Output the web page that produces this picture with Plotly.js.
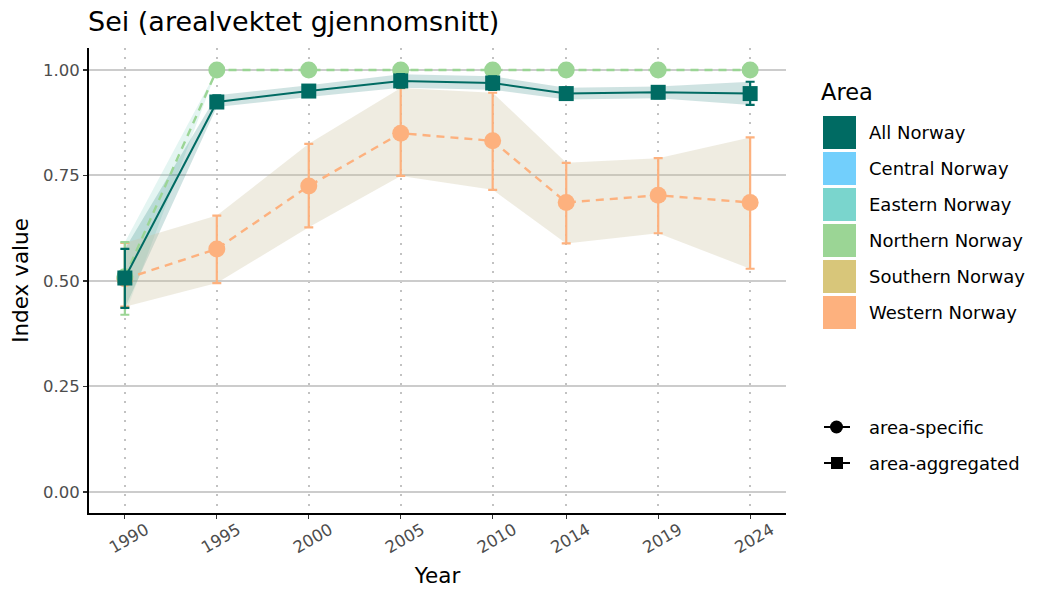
<!DOCTYPE html>
<html>
<head>
<meta charset="utf-8">
<script src="https://cdn.plot.ly/plotly-3.0.1.min.js"></script>
<style>html,body{margin:0;padding:0;background:#fff;}#chart{width:1050px;height:600px;}</style>
</head>
<body>
<div id="chart"></div>
<script>
// ---- data ----
const years = [1990, 1995, 2000, 2005, 2010, 2014, 2019, 2024];

const allNorway      = [0.507, 0.924, 0.950, 0.974, 0.969, 0.944, 0.947, 0.944];
const allNorwayLower = [0.436, 0.912, 0.936, 0.958, 0.953, 0.930, 0.933, 0.917];
const allNorwayUpper = [0.576, 0.940, 0.964, 0.990, 0.985, 0.958, 0.961, 0.972];

const northern      = [0.510, 1.000, 1.000, 1.000, 1.000, 1.000, 1.000, 1.000];
const northernLower = [0.420, 1.000, 1.000, 1.000, 1.000, 1.000, 1.000, 1.000];
const northernUpper = [0.592, 1.000, 1.000, 1.000, 1.000, 1.000, 1.000, 1.000];

const western      = [0.505, 0.576, 0.725, 0.850, 0.832, 0.686, 0.703, 0.686];
const westernLower = [0.439, 0.495, 0.627, 0.749, 0.716, 0.589, 0.613, 0.529];
const westernUpper = [0.590, 0.655, 0.825, 0.957, 0.946, 0.780, 0.791, 0.840];

const yTicks = [0, 0.25, 0.5, 0.75, 1.0];
const yTickLabels = ["0.00", "0.25", "0.50", "0.75", "1.00"];

const areaNames  = ["All Norway", "Central Norway", "Eastern Norway", "Northern Norway", "Southern Norway", "Western Norway"];
const areaColors = ["#006B63", "#72CFFC", "#7AD5CD", "#9BD595", "#D8C67A", "#FDB17E"];
const shapeNames = ["area-specific", "area-aggregated"];

// ---- helpers ----
function ribbon(lower, upper, fill) {
  return {
    x: years.concat(years.slice().reverse()),
    y: lower.concat(upper.slice().reverse()),
    type: 'scatter', mode: 'lines', fill: 'toself',
    fillcolor: fill, line: {width: 0, color: 'rgba(0,0,0,0)'},
    hoverinfo: 'skip', showlegend: false
  };
}
function series(vals, lower, upper, color, dash, width, symbol, size) {
  return {
    x: years, y: vals, type: 'scatter', mode: 'lines+markers',
    line: {color: color, width: width, dash: dash},
    marker: {color: color, size: size, symbol: symbol},
    error_y: {
      type: 'data', symmetric: false,
      array: upper.map((u, i) => u - vals[i]),
      arrayminus: vals.map((v, i) => v - lower[i]),
      color: color, thickness: 2.2, width: 4.5
    },
    showlegend: false
  };
}

const traces = [
  ribbon(northernLower, northernUpper, 'rgba(122,205,190,0.20)'),
  ribbon(allNorwayLower, allNorwayUpper, 'rgba(0,107,99,0.19)'),
  ribbon(westernLower, westernUpper, 'rgba(202,192,155,0.30)'),
  series(western, westernLower, westernUpper, areaColors[5], '8px,6px', 2.4, 'circle', 17),
  series(northern, northernLower, northernUpper, areaColors[3], '8px,6px', 2.4, 'circle', 17),
  series(allNorway, allNorwayLower, allNorwayUpper, areaColors[0], 'solid', 2, 'square', 15)
];

// ---- legend (drawn in paper/pixel space) ----
const W = 1050, H = 600;
const mL = 89, mR = 264, mT = 48, mB = 87;
const pw = W - mL - mR, ph = H - mT - mB;
const px = v => (v - mL) / pw;
const py = v => (H - mB - v) / ph;

const shapes = [];
const annotations = [];

annotations.push({xref:'paper', yref:'paper', x: px(819), y: py(92), text: 'Area',
  showarrow:false, xanchor:'left', yanchor:'middle', font:{size:22.5, color:'#000'}});

areaNames.forEach((name, i) => {
  const top = 116 + i * 36;
  shapes.push({type:'rect', xref:'paper', yref:'paper',
    x0: px(823), x1: px(856), y0: py(top + 33), y1: py(top),
    fillcolor: areaColors[i], line:{width:0}});
  annotations.push({xref:'paper', yref:'paper', x: px(867), y: py(top + 16.5), text: name,
    showarrow:false, xanchor:'left', yanchor:'middle', font:{size:18, color:'#000'}});
});

shapeNames.forEach((name, i) => {
  const cy = 427 + i * 36;
  shapes.push({type:'line', xref:'paper', yref:'paper',
    x0: px(824), x1: px(850), y0: py(cy), y1: py(cy), line:{color:'#000', width:2}});
  if (i === 0) {
    shapes.push({type:'circle', xref:'paper', yref:'paper',
      x0: px(830), x1: px(843), y0: py(cy + 6.5), y1: py(cy - 6.5), fillcolor:'#000', line:{width:0}});
  } else {
    shapes.push({type:'rect', xref:'paper', yref:'paper',
      x0: px(831), x1: px(843), y0: py(cy + 6), y1: py(cy - 6), fillcolor:'#000', line:{width:0}});
  }
  annotations.push({xref:'paper', yref:'paper', x: px(867), y: py(cy), text: name,
    showarrow:false, xanchor:'left', yanchor:'middle', font:{size:18, color:'#000'}});
});

const layout = {
  width: W, height: H,
  margin: {l: mL, r: mR, t: mT, b: mB, pad: 0},
  paper_bgcolor: '#fff', plot_bgcolor: '#fff',
  font: {family: 'DejaVu Sans, sans-serif', color: '#000'},
  title: {text: 'Sei (arealvektet gjennomsnitt)', x: 88/W, xanchor: 'left', y: 1 - 22/H, yanchor: 'middle',
          font: {size: 27, color: '#000'}},
  showlegend: false,
  xaxis: {
    range: [1988.05, 2025.95], tickvals: years, ticktext: years.map(String),
    tickangle: -30, tickfont: {size: 16.5, color: '#4d4d4d'}, ticklabelshift: 21, ticklabelstandoff: -5,
    showgrid: true, gridcolor: '#c2c2c2', gridwidth: 2, griddash: '2px,7.3px',
    zeroline: false, showline: true, linecolor: '#000', linewidth: 2,
    ticks: 'outside', ticklen: 4, tickcolor: '#333', tickwidth: 1.2,
    title: {text: 'Year', font: {size: 21.5, color: '#000'}, standoff: 12}
  },
  yaxis: {
    range: [-0.0498, 1.052], tickvals: yTicks, ticktext: yTickLabels,
    tickfont: {size: 16.5, color: '#4d4d4d'},
    showgrid: true, gridcolor: '#cccccc', gridwidth: 2,
    zeroline: false, showline: true, linecolor: '#000', linewidth: 2,
    ticks: 'outside', ticklen: 4, tickcolor: '#333', tickwidth: 1.2,
    title: {text: 'Index value', font: {size: 21.5, color: '#000'}, standoff: 8}
  },
  shapes: shapes,
  annotations: annotations
};

Plotly.newPlot('chart', traces, layout, {staticPlot: true, displayModeBar: false});
</script>
</body>
</html>
